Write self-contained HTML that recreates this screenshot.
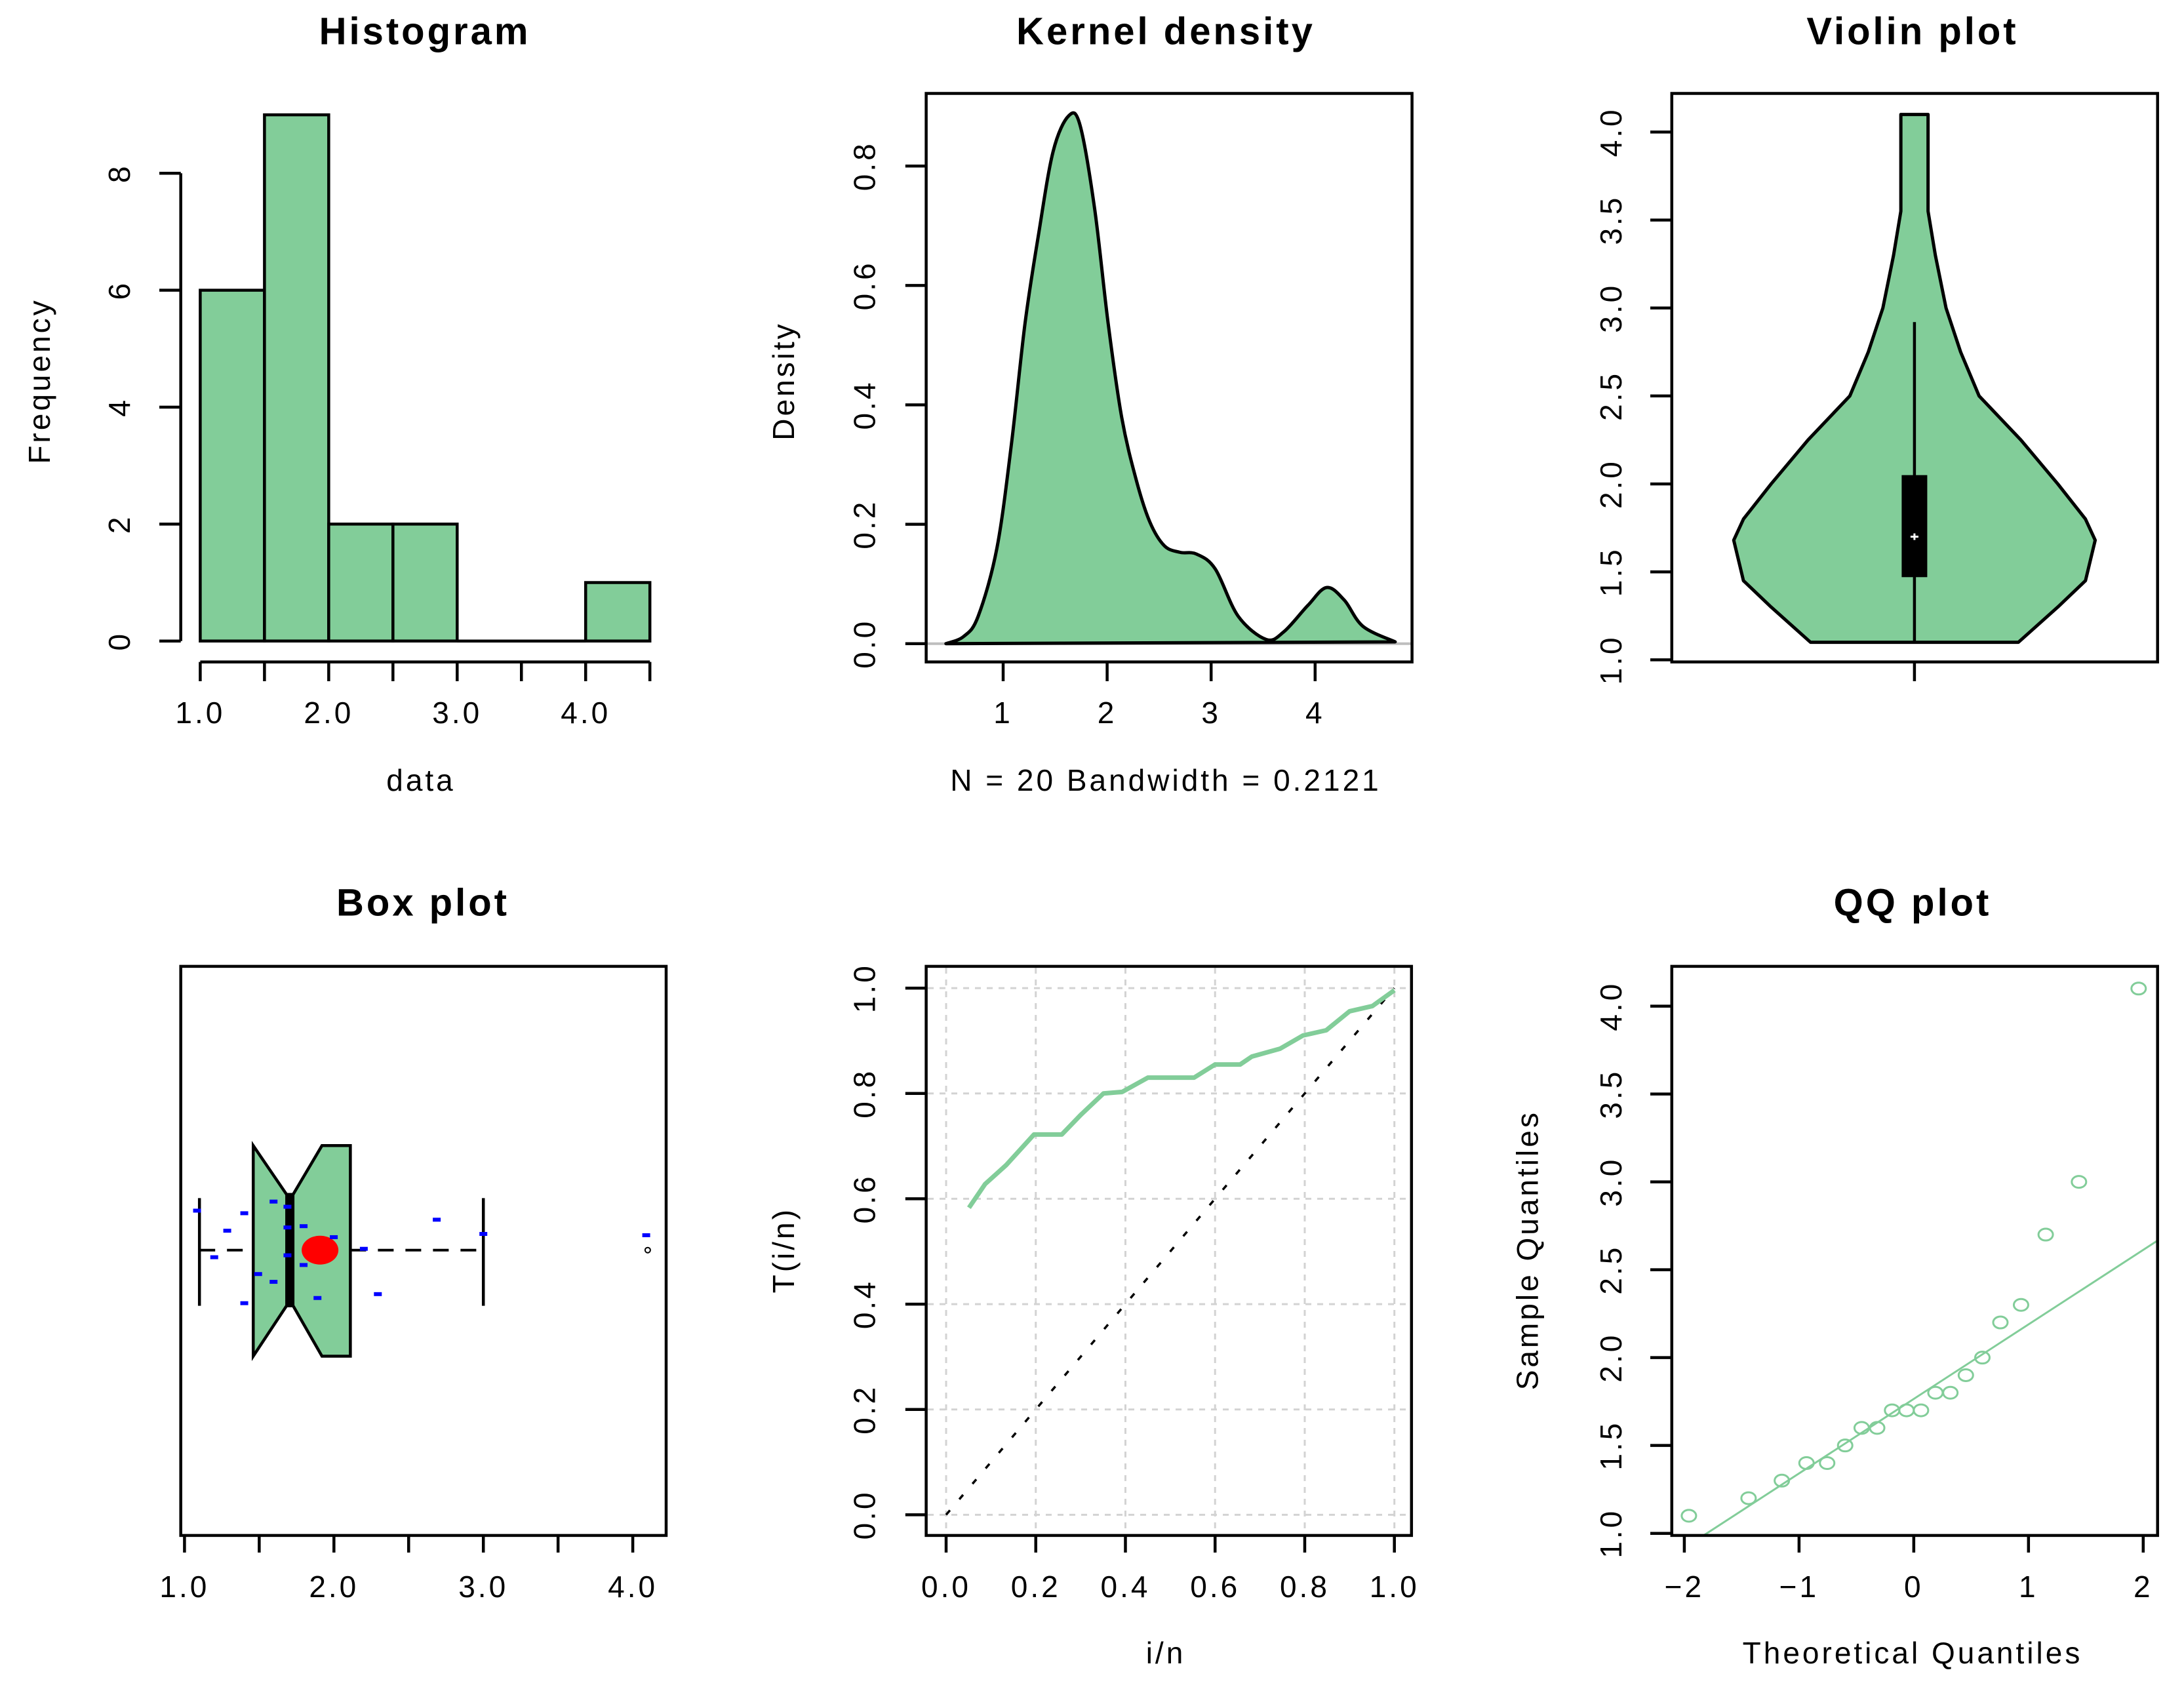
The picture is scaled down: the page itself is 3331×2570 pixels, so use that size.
<!DOCTYPE html>
<html><head><meta charset="utf-8"><style>
html,body{margin:0;padding:0;background:#fff;}
svg{display:block;}
text{font-family:"Liberation Sans",Arial,sans-serif;fill:#000;}
</style></head><body>
<svg id="fig" width="3331" height="2570" viewBox="0 0 3331 2570" xmlns="http://www.w3.org/2000/svg"></svg>
<script>
// ---------- data ----------
const histBreaks = [1.0,1.5,2.0,2.5,3.0,3.5,4.0,4.5];
const histCounts = [6,9,2,2,0,0,1];
const histYTicks = [0,2,4,6,8];
const histXTicks = [1.0,1.5,2.0,2.5,3.0,3.5,4.0,4.5];
const histXLabels = ["1.0","","2.0","","3.0","","4.0",""];

const densX = [0.45,0.62,0.76,0.94,1.08,1.21,1.34,1.48,1.63,1.74,1.88,2.01,2.14,2.28,2.41,2.55,2.70,2.86,3.04,3.26,3.53,3.70,3.93,4.11,4.28,4.46,4.77];
const densY = [0.0,0.012,0.046,0.16,0.335,0.536,0.685,0.824,0.884,0.868,0.728,0.536,0.379,0.274,0.204,0.164,0.153,0.150,0.125,0.046,0.007,0.02,0.064,0.094,0.073,0.029,0.003];
const densYTicks = [0,0.2,0.4,0.6,0.8];
const densYLabels = ["0.0","0.2","0.4","0.6","0.8"];
const densXTicks = [1,2,3,4];

const violinY = [1.1,1.3,1.45,1.68,1.8,2.0,2.25,2.5,2.75,3.0,3.3,3.55,3.7,4.1];
const violinHalfW = [0.214,0.295,0.352,0.372,0.352,0.295,0.219,0.133,0.095,0.065,0.043,0.028,0.028,0.028];
const violinStats = [1.1,1.47,1.7,2.05,2.92]; // min, q1, median, q3, whisker-hi
const violinYTicks = [1.0,1.5,2.0,2.5,3.0,3.5,4.0];
const violinYLabels = ["1.0","1.5","2.0","2.5","3.0","3.5","4.0"];

const boxStats = [1.1,1.46,1.705,2.11,3.0]; // lower whisker, q1, median, q3, upper whisker
const boxNotch = [1.46,1.92];
const boxMean = [1.907];
const boxOutliers = [4.1];
const jitterX = [1.084,1.199,1.286,1.40,1.40,1.493,1.596,1.596,1.689,1.689,1.689,1.797,1.797,1.89,1.999,2.20,2.294,2.688,3.0,4.09];
const jitterY = [-0.061,0.011,-0.030,-0.057,0.082,0.037,-0.075,0.049,-0.067,-0.035,0.008,-0.037,0.023,0.074,-0.020,-0.002,0.068,-0.047,-0.025,-0.023];
const boxXTicks = [1.0,1.5,2.0,2.5,3.0,3.5,4.0];
const boxXLabels = ["1.0","","2.0","","3.0","","4.0"];

const ecdfX = [0.051,0.087,0.134,0.196,0.258,0.30,0.351,0.393,0.45,0.553,0.60,0.656,0.682,0.745,0.796,0.848,0.90,0.951,1.0];
const ecdfY = [0.583,0.628,0.664,0.722,0.722,0.759,0.80,0.803,0.83,0.83,0.855,0.855,0.87,0.885,0.91,0.92,0.956,0.966,0.996];
const ecdfTicks = [0,0.2,0.4,0.6,0.8,1.0];
const ecdfLabels = ["0.0","0.2","0.4","0.6","0.8","1.0"];

const qqTheo = [-1.960,-1.440,-1.150,-0.935,-0.755,-0.598,-0.454,-0.319,-0.189,-0.063,0.063,0.189,0.319,0.454,0.598,0.755,0.935,1.150,1.440,1.960];
const qqSample = [1.1,1.2,1.3,1.4,1.4,1.5,1.6,1.6,1.7,1.7,1.7,1.8,1.8,1.9,2.0,2.2,2.3,2.7,3.0,4.1];
const qqLine = [1.765,0.424]; // intercept, slope
const qqXTicks = [-2,-1,0,1,2];
const qqXLabels = ["\u22122","\u22121","0","1","2"];
const qqYTicks = [1.0,1.5,2.0,2.5,3.0,3.5,4.0];
const qqYLabels = ["1.0","1.5","2.0","2.5","3.0","3.5","4.0"];

// ---------- helpers ----------
const NS = "http://www.w3.org/2000/svg";
const svg = document.getElementById('fig');
const GREEN = "#82cd99";
function mk(tag, attrs, parent){
  const e = document.createElementNS(NS, tag);
  for (const k in attrs) e.setAttribute(k, attrs[k]);
  (parent||svg).appendChild(e);
  return e;
}
function lin(d0,d1,p0,p1){ return v => p0 + (v-d0)*(p1-p0)/(d1-d0); }
function txt(s,x,y,size,opts,name){
  opts = opts||{};
  const t = mk('text',{x:x,y:y,'font-size':size,'text-anchor':opts.anchor||'middle','dominant-baseline':'central','letter-spacing':(opts.ls!=null?opts.ls:4)});
  if (opts.bold) t.setAttribute('font-weight','bold');
  if (opts.rot) t.setAttribute('transform','rotate(-90 '+x+' '+y+')');
  
  
  t.textContent = s;
  return t;
}
function line(x1,y1,x2,y2,w,col,dash,name){
  const l = mk('line',{x1:x1,y1:y1,x2:x2,y2:y2,stroke:col||'#000','stroke-width':w||4.5});
  if (dash) l.setAttribute('stroke-dasharray', dash);
  
  
  return l;
}
function frame(x0,y0,x1,y1,name){
  const r = mk('rect',{x:x0,y:y0,width:x1-x0,height:y1-y0,fill:'none',stroke:'#000','stroke-width':4.5});
  
  
}
function smoothPath(P){
  let d = 'M'+P[0][0]+','+P[0][1];
  for (let i=0;i<P.length-1;i++){
    const p0=P[Math.max(0,i-1)], p1=P[i], p2=P[i+1], p3=P[Math.min(P.length-1,i+2)];
    const c1x=p1[0]+(p2[0]-p0[0])/6, c1y=p1[1]+(p2[1]-p0[1])/6;
    const c2x=p2[0]-(p3[0]-p1[0])/6, c2y=p2[1]-(p3[1]-p1[1])/6;
    d += ' C'+c1x+','+c1y+' '+c2x+','+c2y+' '+p2[0]+','+p2[1];
  }
  return d;
}
const TS = 46, TT = 58;

// ---------- Histogram ----------
(function(){
  const sx = lin(1.0,4.5,305.4,991.2), sy = lin(0,8,977.7,264.3);
  txt("Histogram",648,48,TT,{bold:true},'histogram-title');
  for (let i=0;i<histCounts.length;i++){
    if (histCounts[i]<=0) continue;
    const x0=sx(histBreaks[i]), x1=sx(histBreaks[i+1]);
    const r = mk('rect',{x:x0,y:sy(histCounts[i]),width:x1-x0,height:sy(0)-sy(histCounts[i]),fill:GREEN,stroke:'#000','stroke-width':4.5});
    
    
  }
  line(sx(histBreaks[4]),sy(0),sx(histBreaks[6]),sy(0),4.5,'#000',null,'histogram-baseline');
  line(275.7,sy(histYTicks[0]),275.7,sy(histYTicks[histYTicks.length-1]),4.5,'#000',null,'histogram-y-axis');
  histYTicks.forEach(v=>{ line(243,sy(v),275.7,sy(v),4.5,'#000',null,'histogram-y-tick'); txt(String(v),182,sy(v),TS,{rot:true},'histogram-y-tick-label'); });
  line(sx(histXTicks[0]),1009.6,sx(histXTicks[histXTicks.length-1]),1009.6,4.5,'#000',null,'histogram-x-axis');
  histXTicks.forEach((v,i)=>{ line(sx(v),1009.6,sx(v),1039,4.5,'#000',null,'histogram-x-tick'); if(histXLabels[i]) txt(histXLabels[i],sx(v),1087,TS,{},'histogram-x-tick-label'); });
  txt("data",642,1190,TS,{},'histogram-x-axis-title');
  txt("Frequency",60,581,TS,{rot:true},'histogram-y-axis-title');
})();

// ---------- Kernel density ----------
(function(){
  const sx = lin(1,4,1530,2005.8), sy = lin(0,0.8,981.7,253.2);
  txt("Kernel density",1778,48,TT,{bold:true},'kernel-density-title');
  line(1412.6,sy(0),2153.6,sy(0),4,'#bebebe',null,'density-zero-line');
  const P = densX.map((x,i)=>[sx(x), sy(densY[i])]);
  let d = smoothPath(P) + ' L'+sx(densX[0])+','+sy(0)+' Z';
  const p = mk('path',{d:d,fill:GREEN,stroke:'#000','stroke-width':5,'stroke-linejoin':'round'});
  
  
  frame(1412.6,142.5,2153.6,1009.6,'density-plot-frame');
  densYTicks.forEach((v,i)=>{ line(1380.8,sy(v),1412.6,sy(v),4.5,'#000',null,'density-y-tick'); txt(densYLabels[i],1318.6,sy(v),TS,{rot:true},'density-y-tick-label'); });
  densXTicks.forEach(v=>{ line(sx(v),1009.6,sx(v),1039,4.5,'#000',null,'density-x-tick'); txt(String(v),sx(v),1087,TS,{},'density-x-tick-label'); });
  txt("N = 20    Bandwidth = 0.2121",1778,1190,TS,{},'density-x-axis-title');
  txt("Density",1194.8,581,TS,{rot:true},'density-y-axis-title');
})();

// ---------- Violin ----------
(function(){
  const sy = lin(1.0,4.0,1006.4,201.4), cx = 2919.9, wpx = 741;
  txt("Violin plot",2917,48,TT,{bold:true},'violin-title');
  let d='';
  violinY.forEach((y,i)=>{ d += (i?' L':'M')+(cx - violinHalfW[i]*wpx)+','+sy(y); });
  for (let i=violinY.length-1;i>=0;i--) d += ' L'+(cx + violinHalfW[i]*wpx)+','+sy(violinY[i]);
  d += ' Z';
  const p = mk('path',{d:d,fill:GREEN,stroke:'#000','stroke-width':5,'stroke-linejoin':'round'});
  
  
  line(cx,sy(violinStats[0]),cx,sy(violinStats[4]),4.5,'#000',null,'violin-whisker');
  const b = mk('rect',{x:cx-19.5,y:sy(violinStats[3]),width:39,height:sy(violinStats[1])-sy(violinStats[3]),fill:'#000'});
  
  
  line(cx-6,sy(violinStats[2]),cx+6,sy(violinStats[2]),3,'#fff',null,'violin-median-h');
  line(cx,sy(violinStats[2])-5,cx,sy(violinStats[2])+5,3,'#fff',null,'violin-median-v');
  frame(2549.8,142.5,3290.7,1009.6,'violin-plot-frame');
  violinYTicks.forEach((v,i)=>{ line(2517,sy(v),2549.8,sy(v),4.5,'#000',null,'violin-y-tick'); txt(violinYLabels[i],2457,sy(v),TS,{rot:true},'violin-y-tick-label'); });
  line(cx,1009.6,cx,1039,4.5,'#000',null,'violin-x-tick');
})();

// ---------- Box plot ----------
(function(){
  const sx = lin(1.0,4.0,281.4,965.1), cy = 1906.7;
  txt("Box plot",645,1377,TT,{bold:true},'box-plot-title');
  const top=1747.3, bot=2068.5, ntop=1821.8, nbot=1991.6;
  line(sx(boxStats[0]),cy,sx(boxStats[1]),cy,4,'#000','24,18','box-lower-whisker');
  line(sx(boxStats[3]),cy,sx(boxStats[4]),cy,4,'#000','24,18','box-upper-whisker');
  line(sx(boxStats[0]),1827.4,sx(boxStats[0]),1991.6,4.5,'#000',null,'box-lower-whisker-cap');
  line(sx(boxStats[4]),1827.4,sx(boxStats[4]),1991.6,4.5,'#000',null,'box-upper-whisker-cap');
  const q1=sx(boxStats[1]), md=sx(boxStats[2]), q3=sx(boxStats[3]), nh=sx(boxNotch[1]);
  const d = 'M'+q1+','+top+' L'+(md-5)+','+ntop+' L'+(md+5)+','+ntop+' L'+nh+','+top+' L'+q3+','+top+
            ' L'+q3+','+bot+' L'+nh+','+bot+' L'+(md+5)+','+nbot+' L'+(md-5)+','+nbot+' L'+q1+','+bot+' Z';
  const p = mk('path',{d:d,fill:GREEN,stroke:'#000','stroke-width':4.5});
  
  
  const m = mk('rect',{x:md-7,y:ntop,width:14,height:nbot-ntop,fill:'#000'});
  
  
  boxMean.forEach(v=>{
    const e = mk('ellipse',{cx:sx(v),cy:cy,rx:28,ry:22,fill:'#ff0000'});
    
    
  });
  jitterX.forEach((v,i)=>{
    const r = mk('rect',{x:sx(v)-6,y:cy+jitterY[i]*987-3,width:12,height:6,fill:'#0000ff'});
    
    
  });
  boxOutliers.forEach(v=>{
    const c = mk('circle',{cx:sx(v),cy:cy,r:4,fill:'none',stroke:'#000','stroke-width':2});
    
    
  });
  frame(275.7,1473.9,1016,2341.9,'box-plot-frame');
  boxXTicks.forEach((v,i)=>{ line(sx(v),2341.9,sx(v),2368,4.5,'#000',null,'box-x-tick'); if(boxXLabels[i]) txt(boxXLabels[i],sx(v),2420,TS,{},'box-x-tick-label'); });
})();

// ---------- ECDF / T(i/n) ----------
(function(){
  const sx = lin(0,1,1443,2126.7), sy = lin(0,1,2310.4,1507.1);
  ecdfTicks.forEach(v=>{
    line(sx(v),1476,sx(v),2340,3,'#d3d3d3','9,9','ecdf-grid-v');
    line(1415,sy(v),2151,sy(v),3,'#d3d3d3','9,9','ecdf-grid-h');
  });
  line(sx(0),sy(0),sx(1),sy(1),3.5,'#000','9,22','ecdf-reference-line');
  const pts = ecdfX.map((x,i)=>sx(x)+','+sy(ecdfY[i])).join(' ');
  const pl = mk('polyline',{points:pts,fill:'none',stroke:GREEN,'stroke-width':7,'stroke-linejoin':'round'});
  
  
  frame(1412.6,1473.9,2152.8,2341.9,'ecdf-plot-frame');
  ecdfTicks.forEach((v,i)=>{
    line(1380.8,sy(v),1412.6,sy(v),4.5,'#000',null,'ecdf-y-tick'); txt(ecdfLabels[i],1318.6,sy(v),TS,{rot:true},'ecdf-y-tick-label');
    line(sx(v),2341.9,sx(v),2368,4.5,'#000',null,'ecdf-x-tick'); txt(ecdfLabels[i],sx(v),2420,TS,{},'ecdf-x-tick-label');
  });
  txt("i/n",1778,2521,TS,{},'ecdf-x-axis-title');
  txt("T(i/n)",1194.8,1906.7,TS,{rot:true},'ecdf-y-axis-title');
})();

// ---------- QQ plot ----------
(function(){
  const sx = lin(-2,2,2568.9,3268.8), sy = lin(1.0,4.0,2338.7,1534.6);
  txt("QQ plot",2917,1377,TT,{bold:true},'qq-plot-title');
  const cp = mk('clipPath',{id:'qqclip'});
  mk('rect',{x:2549.8,y:1473.9,width:740.9,height:868},cp);
  const xa=-1.83, xb=2.2;
  const l = mk('line',{x1:sx(xa),y1:sy(qqLine[0]+qqLine[1]*xa),x2:sx(xb),y2:sy(qqLine[0]+qqLine[1]*xb),stroke:GREEN,'stroke-width':3,'clip-path':'url(#qqclip)'});
  
  
  qqTheo.forEach((t,i)=>{
    const c = mk('ellipse',{cx:sx(t),cy:sy(qqSample[i]),rx:11,ry:9,fill:'none',stroke:GREEN,'stroke-width':3});
    
    
  });
  frame(2549.8,1473.9,3290.7,2341.9,'qq-plot-frame');
  qqYTicks.forEach((v,i)=>{ line(2517,sy(v),2549.8,sy(v),4.5,'#000',null,'qq-y-tick'); txt(qqYLabels[i],2457,sy(v),TS,{rot:true},'qq-y-tick-label'); });
  qqXTicks.forEach((v,i)=>{ line(sx(v),2341.9,sx(v),2368,4.5,'#000',null,'qq-x-tick'); txt(qqXLabels[i],sx(v),2420,TS,{},'qq-x-tick-label'); });
  txt("Theoretical Quantiles",2917,2521,TS,{},'qq-x-axis-title');
  txt("Sample Quantiles",2329.7,1906.7,TS,{rot:true},'qq-y-axis-title');
})();
</script>
</body></html>
